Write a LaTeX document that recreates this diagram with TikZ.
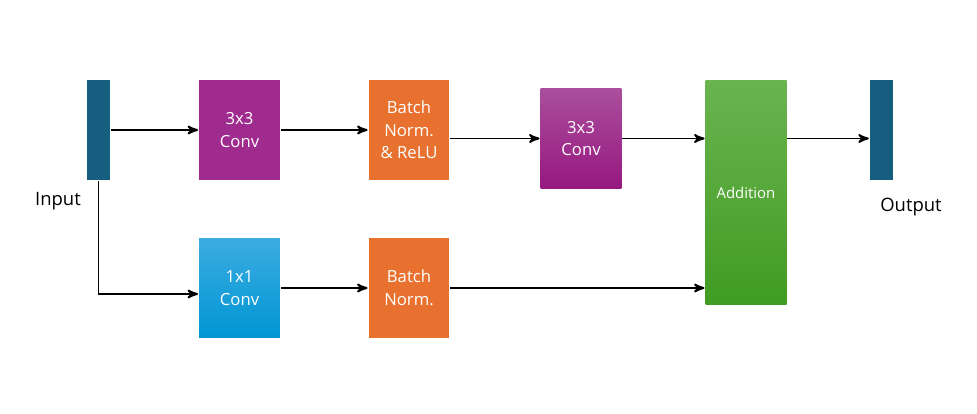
\documentclass[tikz,border=0pt]{standalone}
\usepackage{fontspec}
\setmainfont{Open Sans}
\usetikzlibrary{arrows}

\definecolor{barblue}{RGB}{22,94,128}
\definecolor{convpurple}{RGB}{160,43,143}
\definecolor{convtop}{RGB}{170,78,156}
\definecolor{convbot}{RGB}{150,24,128}
\definecolor{bnorange}{RGB}{233,113,48}
\definecolor{onetop}{RGB}{60,172,225}
\definecolor{onebot}{RGB}{0,150,211}
\definecolor{addtop}{RGB}{106,180,80}
\definecolor{addbot}{RGB}{64,156,34}

\tikzset{
  blk/.style={minimum width=1.62cm, minimum height=2cm, inner sep=0pt,
    text=white, align=center, font=\fontsize{9.5}{12.8}\selectfont},
  bar/.style={fill=barblue, minimum width=0.47cm, minimum height=2cm, inner sep=0pt},
  lbl/.style={font=\fontsize{10.5}{12}\selectfont}
}

\begin{document}
\begin{tikzpicture}[>=stealth',x=0.02cm,y=-0.02cm,line width=1.1pt]

\useasboundingbox (0,0) rectangle (977,413);

\node[bar] (in) at (98.5,130) {};
 \node[lbl] (inl) at (58,201) {Input};
\node[blk,fill=convpurple] (c1) at (239.5,130) {3x3\\Conv};
  \node[blk,fill=bnorange] (bn1) at (409,130) {Batch\\Norm.\\\& ReLU};
 \node[blk,top color=convtop,bottom color=convbot] (c2) at (581,138.5) {3x3\\Conv};
\node[blk,top color=addtop,bottom color=addbot,minimum height=4.5cm,
  font=\fontsize{8.5}{10}\selectfont] (add) at (746,192.5) {Addition};
	\node[bar] (out) at (881.5,130) {};
 \node[lbl] (outl) at (911,207) {Output};

\node[blk,top color=onetop,bottom color=onebot] (c3) at (239.5,288) {1x1\\Conv};
  \node[blk,fill=bnorange] (bn2) at (409,288) {Batch\\Norm.};


\path[->] (in) edge (c1)
          (c1) edge (bn1)
          (bn1.east |- c2.west) edge (c2.west)
          (c2.east) edge (c2.east -| add.west)
          (c2.east -| add.east) edge (c2.east -| out.west)

          (c3) edge (bn2)
          (bn2.east) edge (bn2.east -| add.west);

\draw[->] (in.south) |- ([yshift=-3.4pt]c3.west);

\end{tikzpicture}
\end{document}
